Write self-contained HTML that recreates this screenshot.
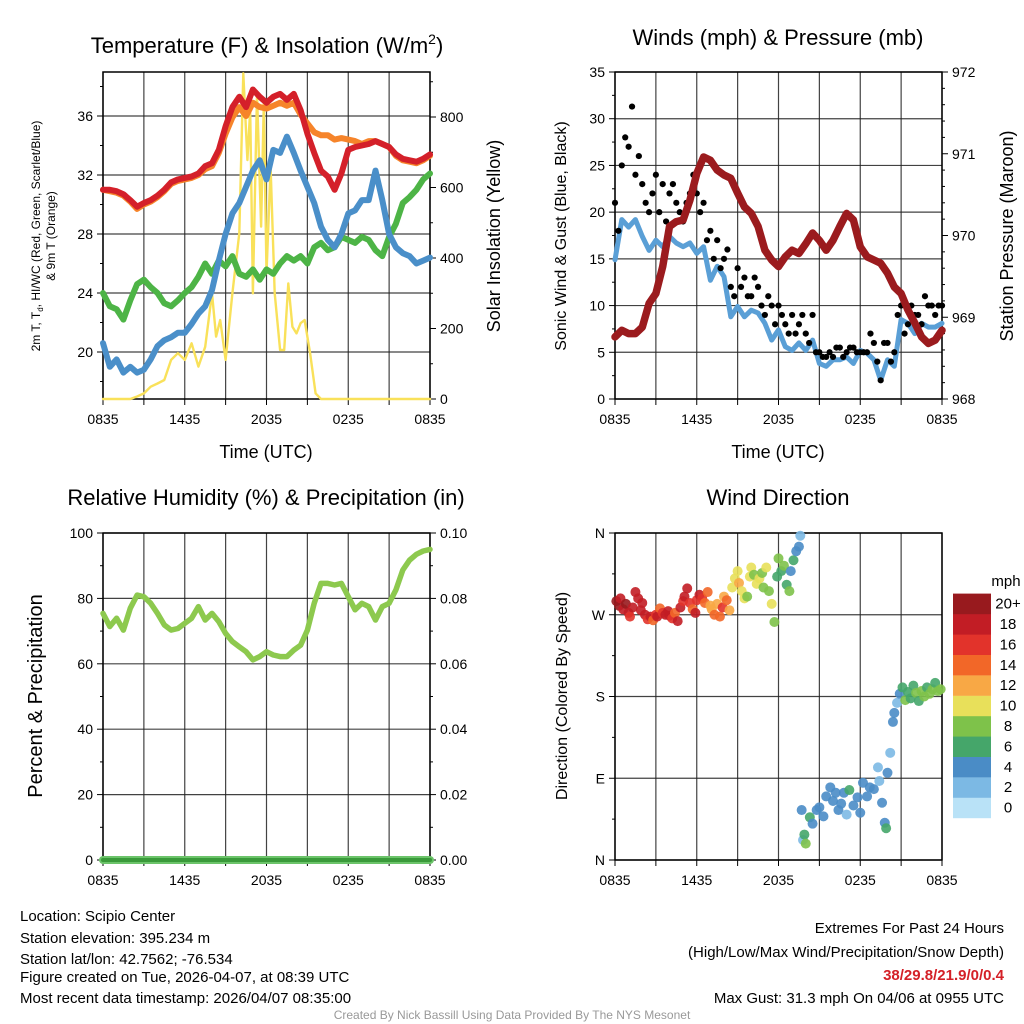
<!DOCTYPE html>
<html><head><meta charset="utf-8"><style>
html,body{margin:0;padding:0;background:#fff}
svg{display:block;font-family:"Liberation Sans",Arial,sans-serif}
</style></head><body>
<svg id="chart" width="1024" height="1024" viewBox="0 0 1024 1024" xmlns="http://www.w3.org/2000/svg">
<rect width="1024" height="1024" fill="#fff"/>
<text x="267" y="53" font-size="22" text-anchor="middle">Temperature (F) &amp; Insolation (W/m<tspan font-size="14" dy="-9">2</tspan><tspan dy="9">)</tspan></text>
<text x="778" y="45" font-size="22" text-anchor="middle">Winds (mph) &amp; Pressure (mb)</text>
<text x="266" y="505" font-size="22" text-anchor="middle">Relative Humidity (%) &amp; Precipitation (in)</text>
<text x="778" y="505" font-size="22" text-anchor="middle">Wind Direction</text>
<text x="266" y="458" font-size="18" text-anchor="middle">Time (UTC)</text>
<text x="778" y="458" font-size="18" text-anchor="middle">Time (UTC)</text>
<g font-size="12" text-anchor="middle">
<text transform="translate(40,236) rotate(-90)">2m T, T<tspan font-size="8" dy="3">d</tspan><tspan dy="-3">, HI/WC (Red, Green, Scarlet/Blue)</tspan></text>
<text transform="translate(55,236) rotate(-90)">&amp; 9m T (Orange)</text>
</g>
<text transform="translate(500,236) rotate(-90)" font-size="18" text-anchor="middle">Solar Insolation (Yellow)</text>
<text transform="translate(566,236) rotate(-90)" font-size="16" text-anchor="middle">Sonic Wind &amp; Gust (Blue, Black)</text>
<text transform="translate(1013,236) rotate(-90)" font-size="18" text-anchor="middle">Station Pressure (Maroon)</text>
<text transform="translate(42,696) rotate(-90)" font-size="20" text-anchor="middle">Percent &amp; Precipitation</text>
<text transform="translate(567,696) rotate(-90)" font-size="16" text-anchor="middle">Direction (Colored By Speed)</text>
<g font-size="15">
<text x="20" y="921">Location: Scipio Center</text>
<text x="20" y="943">Station elevation: 395.234 m</text>
<text x="20" y="964">Station lat/lon: 42.7562; -76.534</text>
<text x="20" y="982">Figure created on Tue, 2026-04-07, at 08:39 UTC</text>
<text x="20" y="1003">Most recent data timestamp: 2026/04/07 08:35:00</text>
</g>
<g font-size="15" text-anchor="end">
<text x="1004" y="933">Extremes For Past 24 Hours</text>
<text x="1004" y="957">(High/Low/Max Wind/Precipitation/Snow Depth)</text>
<text x="1004" y="980" fill="#d42027" font-weight="bold">38/29.8/21.9/0/0.4</text>
<text x="1004" y="1003">Max Gust: 31.3 mph On 04/06 at 0955 UTC</text>
</g>
<text x="512" y="1019" font-size="12" fill="#999" text-anchor="middle">Created By Nick Bassill Using Data Provided By The NYS Mesonet</text>
<text x="1006" y="586" font-size="15" text-anchor="middle">mph</text>
</svg>
<script>
// ---- data (half-hourly from 0835 UTC) ----
const xTickLabels = ["0835","1435","2035","0235","0835"];
const tempTicks = [20,24,28,32,36];
const insolTicks = [0,200,400,600,800];
const windTicks = [0,5,10,15,20,25,30,35];
const presTicks = [968,969,970,971,972];
const rhTicks = [0,20,40,60,80,100];
const precipTicks = ["0.00","0.02","0.04","0.06","0.08","0.10"];
const dirTicks = ["N","E","S","W","N"];
const speedBins = ["0","2","4","6","8","10","12","14","16","18","20+"];

const tempRed = [31.0,31.0,30.9,30.7,30.3,29.85,30.1,30.3,30.6,31.0,31.5,31.7,31.8,31.9,32.1,32.6,32.8,33.7,35.3,36.6,37.3,36.6,37.8,37.3,36.9,37.3,37.5,37.1,37.5,36.4,34.8,33.5,32.3,31.9,31.0,32.1,33.7,33.9,34.0,34.1,34.3,34.1,33.9,33.4,33.1,33.0,32.9,33.1,33.4];
const temp9m = [31.0,30.9,30.8,30.6,30.2,29.7,30.0,30.2,30.5,30.9,31.4,31.6,31.7,31.8,32.0,32.4,32.6,33.5,34.8,35.9,36.6,36.0,36.9,36.6,36.5,36.7,36.9,36.7,36.9,36.1,35.5,34.9,34.7,34.7,34.4,34.5,34.4,34.3,34.1,34.3,34.3,34.1,33.9,33.3,33.0,32.9,32.8,33.0,33.3];
const tempWC = [20.6,19.0,19.5,18.6,19.0,18.6,18.8,19.5,20.4,20.8,21.0,21.3,21.3,21.9,22.6,23.1,24.2,26.2,28.0,29.4,30.1,31.2,32.3,33.0,31.7,33.7,33.5,34.6,33.5,32.3,31.2,30.1,28.5,27.6,27.1,28.0,29.4,29.6,30.3,30.3,32.3,30.3,28.0,27.1,26.7,26.5,26.0,26.2,26.4];
const tempDew = [24.0,23.1,22.9,22.2,23.5,24.6,24.9,24.4,24.0,23.3,23.1,23.5,24.0,24.4,25.1,26.0,25.3,26.2,25.8,26.5,25.3,25.1,25.6,24.9,25.6,25.3,26.0,26.5,26.2,26.5,26.0,27.1,27.4,26.9,27.1,27.8,27.6,27.4,27.8,27.6,26.9,26.5,27.8,28.7,30.1,30.5,31.0,31.7,32.1];
const insolHours = [0,2,2.5,3,3.5,4,4.5,5,5.5,6,6.5,7,7.5,8,8.3,8.6,9,9.5,10,10.3,10.6,10.8,11,11.3,11.6,11.8,12,12.3,12.6,13,13.3,13.6,13.9,14.2,14.5,14.8,15.2,15.6,16,24];
const insolValues = [0,0,7,16,35,44,54,111,130,111,158,92,148,300,177,224,111,300,470,924,678,820,300,867,489,839,356,658,300,139,139,328,205,186,215,224,130,16,0,0];

const windSpeed = [14.9,19.2,18.4,19.2,17.4,15.9,17.0,16.3,17.4,16.7,16.3,16.7,15.6,16.3,12.7,14.2,13.1,8.8,9.9,8.8,9.5,9.2,8.1,6.3,7.4,5.6,5.2,6.0,5.2,6.3,3.8,3.5,4.2,4.2,4.5,3.8,5.2,4.9,4.2,2.0,4.2,3.5,8.5,8.1,7.0,8.1,7.7,7.7,8.1];
const gustA = [21,25,27,24,23,20,24,23,22,21,19,22,22,21,18,17,15,12,14,13,11,12,9,10,10,8,9,8,7,9,5,4.5,4.5,5.5,5,5.5,5,5,6,2,6,5,10,8,9,8,10,9,10];
const gustB = [18,28,31.3,26,21,22,20,19,23,20,21,24,20,17,15,14,16,11,12,11,13,10,11,8,9,7,7,9,6,5,4.5,5,5.5,4.5,5.5,5,5,7,4,6,4,9,7,10,9,11,10,10];
const pressure = [968.76,968.84,968.80,968.80,968.88,969.17,969.29,969.62,970.11,970.17,970.19,970.43,970.76,970.96,970.92,970.80,970.74,970.70,970.52,970.35,970.27,970.11,969.82,969.70,969.62,969.74,969.82,969.78,969.90,970.03,969.94,969.82,969.94,970.11,970.27,970.19,969.86,969.74,969.70,969.66,969.54,969.37,969.29,969.09,968.93,968.76,968.68,968.72,968.84];

const rh = [75.4,71.4,73.9,70.3,77.0,81.0,80.5,78.5,75.4,71.9,70.3,70.8,72.4,73.9,77.5,73.4,75.4,72.9,69.3,66.8,65.2,63.7,61.2,62.2,63.7,62.7,62.2,62.2,64.2,65.7,70.3,78.5,84.6,84.6,84.1,84.6,80.5,76.5,78.5,77.5,73.4,77.5,78.5,82.6,88.7,91.7,93.5,94.5,95.0];
const precip = [0,0,0,0,0,0,0,0,0,0,0,0,0,0,0,0,0,0,0,0,0,0,0,0,0,0,0,0,0,0,0,0,0,0,0,0,0,0,0,0,0,0,0,0,0,0,0,0,0];

const dirHours = [0.1,0.3,0.4,0.6,0.8,1.0,1.1,1.3,1.5,1.7,1.9,2.0,2.2,2.4,2.6,2.8,3.0,3.1,3.3,3.5,3.7,3.9,4.0,4.2,4.4,4.6,4.8,5.0,5.1,5.3,5.5,5.7,5.9,6.0,6.2,6.4,6.6,6.8,7.0,7.1,7.3,7.5,7.7,7.9,8.0,8.2,8.4,8.6,8.8,9.0,9.1,9.3,9.5,9.7,9.9,10.0,10.2,10.4,10.6,10.8,10.9,11.1,11.3,11.5,11.7,11.9,12.0,12.2,12.4,12.6,12.8,12.9,13.1,13.3,13.5,13.6,13.7,13.8,13.9,14.0,14.3,14.5,14.8,15.0,15.3,15.5,15.8,16.0,16.2,16.4,16.6,16.8,17.0,17.2,17.5,17.8,18.0,18.2,18.5,18.7,19.0,19.3,19.4,19.6,19.8,19.9,20.0,20.2,20.4,20.5,20.7,20.9,21.1,21.3,21.5,21.7,21.9,22.1,22.3,22.5,22.7,22.9,23.1,23.3,23.5,23.7,23.9];
const dirDegrees = [285,280,288,276,282,272,268,278,295,288,275,283,270,265,268,264,270,268,277,272,270,274,269,266,272,263,278,285,290,299,283,276,272,286,292,288,283,295,280,276,270,282,268,278,290,286,275,300,310,318,305,296,288,290,312,322,314,304,310,316,300,322,296,282,262,312,332,318,324,303,296,318,330,340,345,357,55,22,28,18,47,40,55,58,48,70,80,65,74,55,62,74,50,77,60,69,52,85,70,80,78,102,87,63,41,35,96,118,152,162,173,183,190,176,185,178,192,184,175,186,180,190,183,188,195,186,188];
const dirSpeeds = [19,20,17,18,21,17,16,18,17,18,17,18,17,16,17,14,15,17,14,16,18,17,17,16,14,17,17,16,17,18,16,14,17,16,17,15,14,13,12,12,14,12,13,16,12,13,12,10,9,10,11,10,9,8,10,9,8,9,10,8,8,9,8,9,8,6,7,6,8,6,7,4,5,4,4,1,4,2,6,8,6,4,4,4,4,3,4,4,4,3,4,4,2,6,4,4,4,4,4,4,4,2,2,4,4,6,4,1,4,4,2,4,6,8,6,6,6,8,6,8,8,6,8,8,6,8,8];

// ---- helpers ----
const NS = "http://www.w3.org/2000/svg";
const svg = document.getElementById("chart");
function mk(tag, attrs, parent) {
  const e = document.createElementNS(NS, tag);
  for (const k in attrs) e.setAttribute(k, attrs[k]);
  (parent || svg).appendChild(e);
  return e;
}
const speedColors = ["#b9e2f7","#7cb9e4","#4a8cc6","#45a66a","#7ec24a","#e8e05a","#f8a845","#f26728","#e2332b","#c21d25","#981a1e"];

function panel(name, x0, y0, w, h) {
  const g = mk("g", {});
  
  
  return {g, x0, y0, w, h, xs: t => x0 + t / 24 * w};
}
function lin(d0, d1, p0, p1) { return v => p0 + (v - d0) / (d1 - d0) * (p1 - p0); }

function frame(P, yTicksL, ysL, minorL, fmtL, yTicksR, ysR, minorR, fmtR) {
  const gg = mk("g", {}, P.g);
  
  
  for (let k = 0; k <= 8; k++) {
    const x = P.x0 + k * P.w / 8;
    mk("line", {x1:x, y1:P.y0, x2:x, y2:P.y0+P.h, stroke:"#222", "stroke-width":1.2, opacity:0.85}, gg);
    mk("line", {x1:x, y1:P.y0+P.h, x2:x, y2:P.y0+P.h+6, stroke:"#000", "stroke-width":1}, gg);
  }
  yTicksL.forEach(v => {
    const y = ysL(v);
    mk("line", {x1:P.x0, y1:y, x2:P.x0+P.w, y2:y, stroke:"#222", "stroke-width":1.2, opacity:0.85}, gg);
  });
  const ax = mk("g", {}, P.g);
  
  
  mk("rect", {x:P.x0, y:P.y0, width:P.w, height:P.h, fill:"none", stroke:"#000", "stroke-width":1.5}, ax);
  yTicksL.forEach((v, i) => {
    const y = ysL(v);
    mk("line", {x1:P.x0-6, y1:y, x2:P.x0, y2:y, stroke:"#000"}, ax);
    const t = mk("text", {x:P.x0-10, y:y+5, "font-size":14, "text-anchor":"end"}, ax);
    
    t.textContent = fmtL(v, i);
  });
  minorL.forEach(v => mk("line", {x1:P.x0-3, y1:ysL(v), x2:P.x0, y2:ysL(v), stroke:"#000"}, ax));
  if (yTicksR) {
    yTicksR.forEach((v, i) => {
      const y = ysR(v);
      mk("line", {x1:P.x0+P.w, y1:y, x2:P.x0+P.w+6, y2:y, stroke:"#000"}, ax);
      const t = mk("text", {x:P.x0+P.w+10, y:y+5, "font-size":14}, ax);
      
      t.textContent = fmtR(v, i);
    });
    minorR.forEach(v => mk("line", {x1:P.x0+P.w, y1:ysR(v), x2:P.x0+P.w+3, y2:ysR(v), stroke:"#000"}, ax));
  }
  xTickLabels.forEach((s, i) => {
    const t = mk("text", {x:P.x0 + i * P.w / 4, y:P.y0+P.h+25, "font-size":14, "text-anchor":"middle"}, ax);
    
    t.textContent = s;
  });
}
function pathD(P, vals, ys, hours) {
  return vals.map((v, i) => (i ? "L" : "M") + P.xs(hours ? hours[i] : i * 0.5).toFixed(1) + "," + ys(v).toFixed(1)).join("");
}
function series(P, name, vals, ys, color, width, hours) {
  const p = mk("path", {d:pathD(P, vals, ys, hours), fill:"none", stroke:color, "stroke-width":width, "stroke-linejoin":"round", "stroke-linecap":"round"}, P.g);
  
  
  return p;
}

// ---- panel 1: temperature ----
const P1 = panel("temperature-panel", 103, 72, 327, 327);
const yT = lin(20, 36, 352, 116);
const yS = lin(0, 800, 399, 117);
const range = (a, b, s) => { const r = []; for (let v = a; v <= b + 1e-9; v += s) r.push(+v.toFixed(3)); return r; };
frame(P1, tempTicks, yT, range(18, 38, 2), v => v, insolTicks, yS, range(100, 900, 100), v => v);
series(P1, "insolation-line", insolValues, yS, "#f9e15a", 2.4, insolHours);
series(P1, "dewpoint-line", tempDew, yT, "#4db446", 6);
series(P1, "wind-chill-line", tempWC, yT, "#4a8fc9", 6);
series(P1, "temp-9m-line", temp9m, yT, "#f6842a", 6);
series(P1, "temp-2m-line", tempRed, yT, "#d4202a", 6);

// ---- panel 2: wind & pressure ----
const P2 = panel("wind-panel", 615, 72, 327, 327);
const yW = lin(0, 35, 399, 72);
const yP = lin(968, 972, 399, 72);
frame(P2, windTicks, yW, range(2.5, 32.5, 5), v => v, presTicks, yP, range(968.2, 971.8, 0.2).filter(v => Math.abs(v - Math.round(v)) > 0.01), v => v);
series(P2, "wind-speed-line", windSpeed, yW, "#5a9fd6", 5);
const gg2 = mk("g", {}, P2.g);


gustA.forEach((v, i) => {
  const c = mk("circle", {cx:P2.xs(i * 0.5), cy:yW(v), r:3.1, fill:"#000"}, gg2);
  
});
gustB.forEach((v, i) => {
  const c = mk("circle", {cx:P2.xs(i * 0.5 + 0.25), cy:yW(v), r:3.1, fill:"#000"}, gg2);
  
});
series(P2, "pressure-line", pressure, yP, "#9b1b1e", 7.5);

// ---- panel 3: RH ----
const P3 = panel("humidity-panel", 103, 533, 327, 327);
const yR = lin(0, 100, 860, 533);
const yPr = lin(0, 0.1, 860, 533);
frame(P3, rhTicks, yR, range(10, 90, 20), v => v, [0,0.02,0.04,0.06,0.08,0.1], yPr, range(0.01, 0.09, 0.02), (v, i) => precipTicks[i]);
series(P3, "rh-line", rh, yR, "#8dc94e", 5.5);
series(P3, "precip-outline", precip, yPr, "#6cc46a", 8);
series(P3, "precip-line", precip, yPr, "#3a9a3a", 4);

// ---- panel 4: wind direction ----
const P4 = panel("direction-panel", 615, 533, 327, 327);
const yD = lin(0, 360, 860, 533);
frame(P4, [0,90,180,270,360], yD, range(45, 315, 90), (v, i) => dirTicks[i], null);
const gd = mk("g", {}, P4.g);


dirDegrees.forEach((d, i) => {
  const bin = Math.min(10, Math.round(dirSpeeds[i] / 2));
  const c = mk("circle", {cx:P4.xs(dirHours[i]), cy:yD(d), r:5, fill:speedColors[bin], opacity:0.9}, gd);
  
});
// colorbar
const cb = mk("g", {});


speedBins.forEach((s, i) => {
  const y = 818 - (i + 1) * 20.4;
  const r = mk("rect", {x:953, y:y, width:38, height:20.6, fill:speedColors[i]}, cb);
  
  const t = mk("text", {x:1008, y:y + 15, "font-size":15, "text-anchor":"middle"}, cb);
  
  t.textContent = s;
});
</script>
</body></html>
